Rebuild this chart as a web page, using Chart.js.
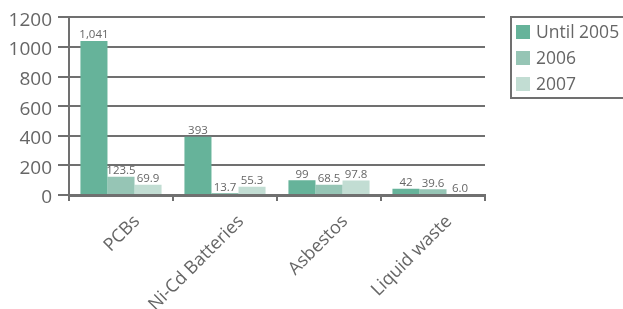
<!DOCTYPE html>
<html>
<head>
<meta charset="utf-8">
<script src="https://cdn.jsdelivr.net/npm/chart.js@4.4.1/dist/chart.umd.min.js"></script>
<style>
  body { margin: 0; background: #fff; font-family: "Open Sans", sans-serif; }
  #wrap { position: relative; width: 623px; height: 309px; overflow: hidden; }
  #legend { position: absolute; left: 510px; top: 16px; width: 130px; border: 2px solid #707070;
            padding: 0 0 1px 4px; box-sizing: border-box; color: #666; font-size: 17.5px; }
  #legend div { height: 26px; line-height: 26px; white-space: nowrap; }
  #legend span { display: inline-block; width: 14px; height: 14px; margin-right: 6px; vertical-align: -1px; }
</style>
</head>
<body>
<div id="wrap">
  <canvas id="myChart" width="623" height="309"></canvas>
  <div id="legend"></div>
</div>
<script>
var categories = ["PCBs", "Ni-Cd Batteries", "Asbestos", "Liquid waste"];
var seriesNames = ["Until 2005", "2006", "2007"];
var until2005 = [1041, 393, 99, 42];
var year2006 = [123.5, 13.7, 68.5, 39.6];
var year2007 = [69.9, 55.3, 97.8, 6.0];
var labels2005 = ["1,041", "393", "99", "42"];
var labels2006 = ["123.5", "13.7", "68.5", "39.6"];
var labels2007 = ["69.9", "55.3", "97.8", "6.0"];
var colors = ["#66b39a", "#96c5b5", "#c2ddd3"];

var grey = "#707070";
var textGrey = "#666666";

// numbers above the bars
var valueLabels = {
  id: 'valueLabels',
  afterDatasetsDraw: function(chart) {
    var ctx = chart.ctx;
    var texts = [labels2005, labels2006, labels2007];
    ctx.save();
    ctx.font = '11.5px "Open Sans"';
    ctx.fillStyle = textGrey;
    ctx.textAlign = 'center';
    ctx.textBaseline = 'bottom';
    chart.data.datasets.forEach(function(ds, i) {
      chart.getDatasetMeta(i).data.forEach(function(bar, j) {
        ctx.fillText(texts[i][j], bar.x, bar.y);
      });
    });
    ctx.restore();
  }
};

var ctx = document.getElementById('myChart').getContext('2d');
var myChart = new Chart(ctx, {
  type: 'bar',
  data: {
    labels: categories,
    datasets: [
      { label: seriesNames[0], data: until2005, backgroundColor: colors[0] },
      { label: seriesNames[1], data: year2006, backgroundColor: colors[1] },
      { label: seriesNames[2], data: year2007, backgroundColor: colors[2] }
    ]
  },
  options: {
    responsive: false,
    animation: false,
    layout: { padding: { left: 0, right: 138, top: 17, bottom: 0 } },
    datasets: { bar: { categoryPercentage: 0.78, barPercentage: 1 } },
    plugins: { legend: { display: false }, tooltip: { enabled: false } },
    scales: {
      x: {
        grid: { drawOnChartArea: false, color: grey, lineWidth: 2, tickLength: 6, offset: true },
        border: { color: grey, width: 3 },
        ticks: { color: textGrey, font: { family: "Open Sans", size: 18 }, minRotation: 45, maxRotation: 45,
                 padding: 10, labelOffset: 16 },
        afterFit: function(s) { s.height = 114; }
      },
      y: {
        min: 0, max: 1200,
        grid: { color: grey, lineWidth: 2, tickLength: 11 },
        border: { color: grey, width: 2 },
        ticks: { stepSize: 200, color: textGrey, font: { family: "Open Sans", size: 19 }, padding: 6,
                 labelOffset: 3, callback: function(v) { return String(v); } },
        afterFit: function(s) { s.width = 69; }
      }
    }
  },
  plugins: [valueLabels]
});

var legend = document.getElementById('legend');
seriesNames.forEach(function(name, i) {
  var row = document.createElement('div');
  row.innerHTML = '<span style="background:' + colors[i] + '"></span>' + name;
  legend.appendChild(row);
});
</script>
</body>
</html>
